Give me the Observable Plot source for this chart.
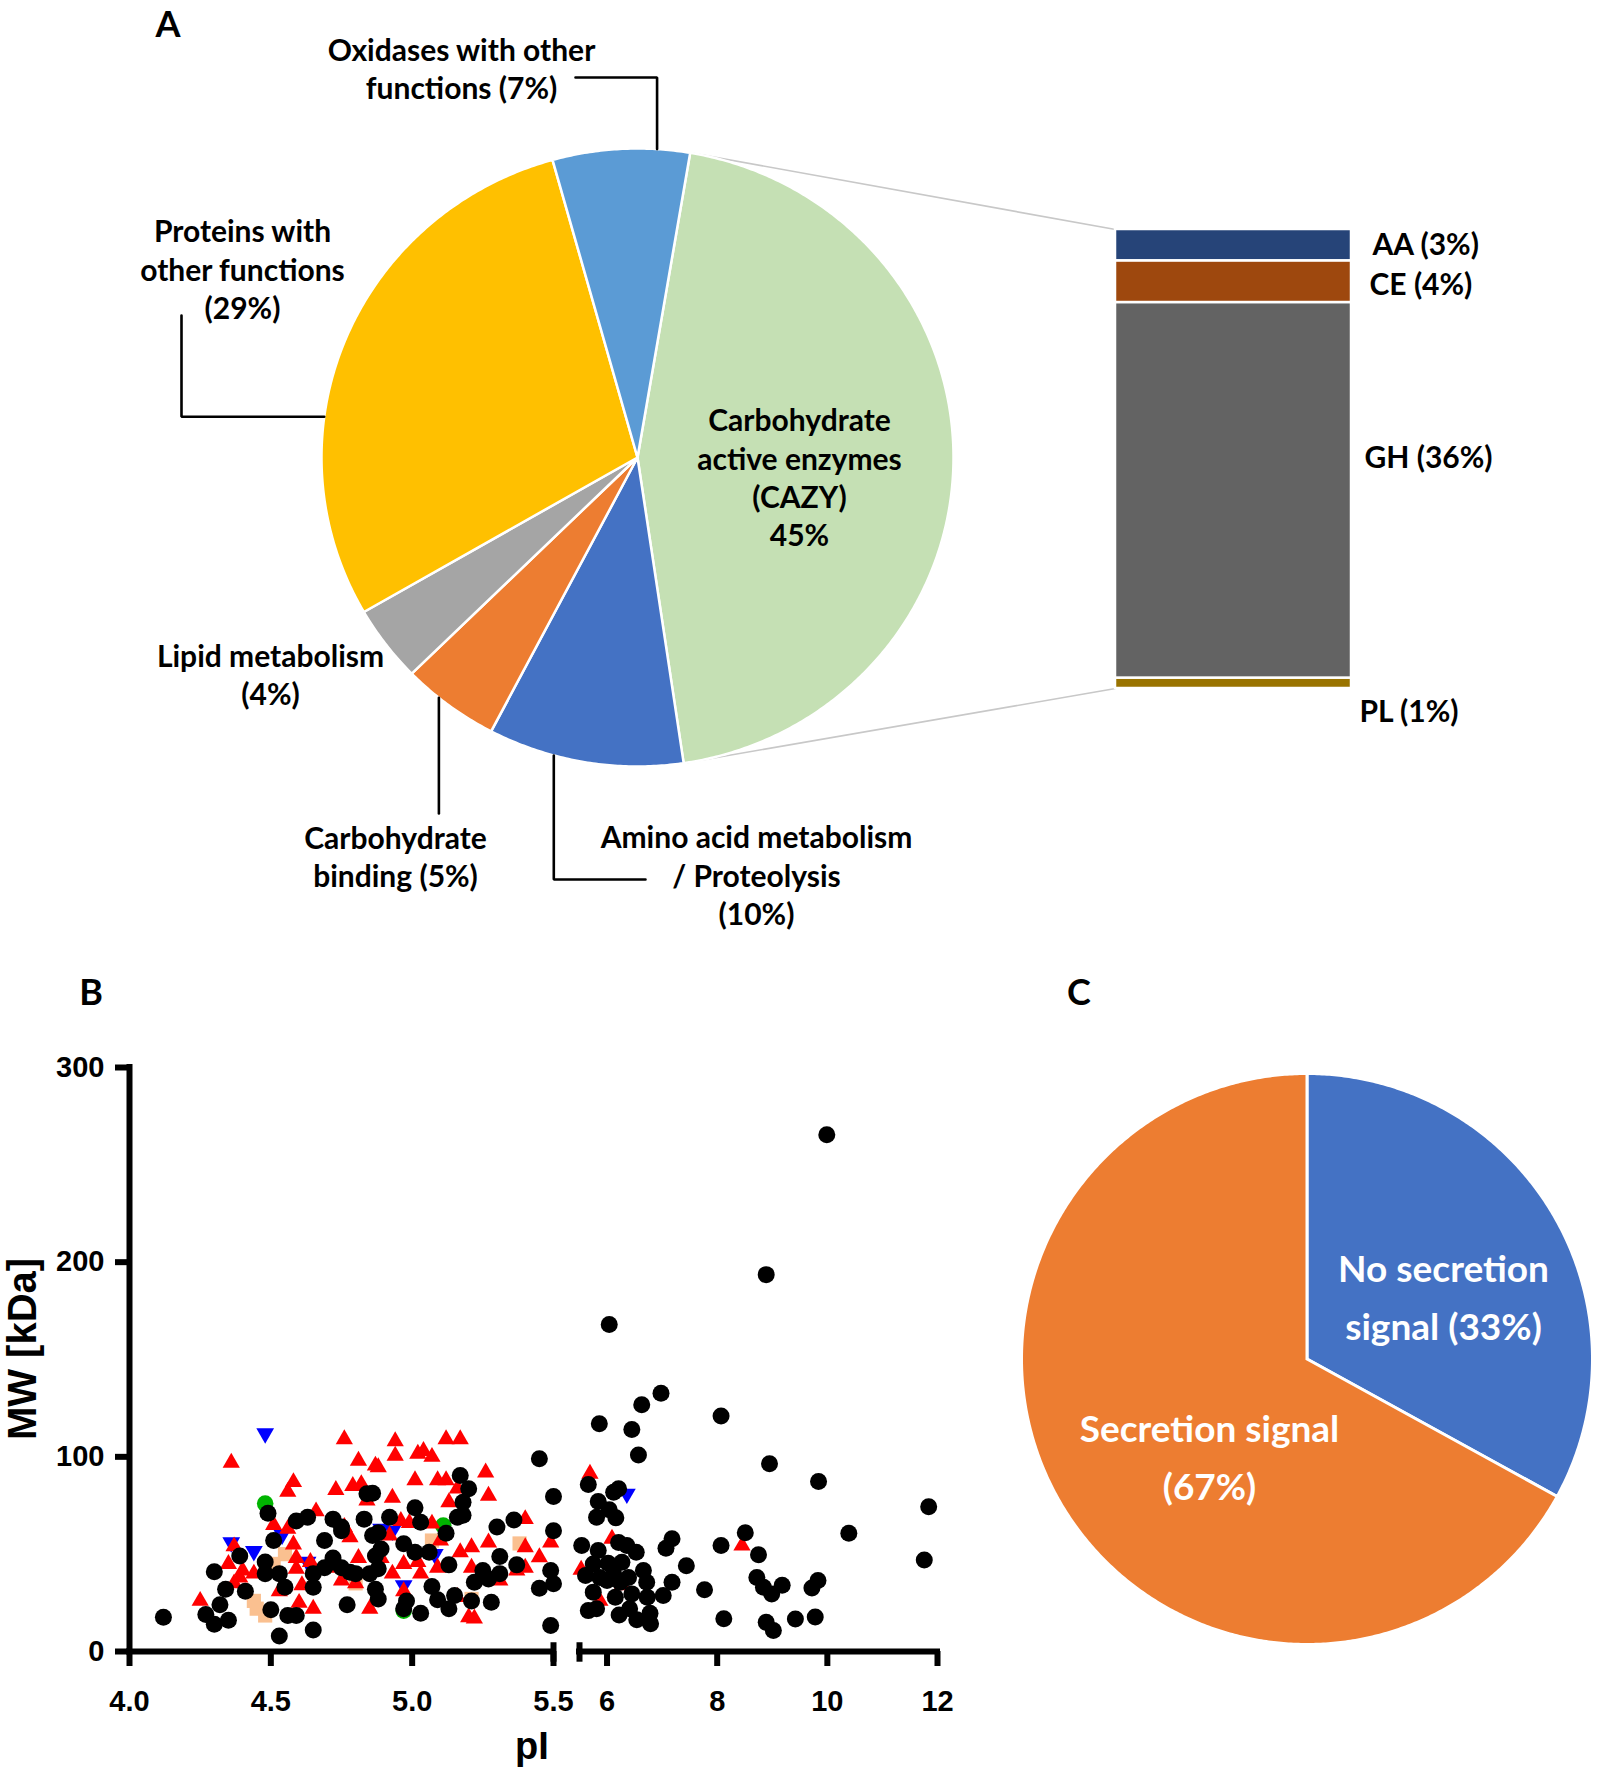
<!DOCTYPE html>
<html><head><meta charset="utf-8">
<script src="https://cdn.jsdelivr.net/npm/d3@7"></script>
<script src="https://cdn.jsdelivr.net/npm/@observablehq/plot@0.6"></script>
<style>
html,body{margin:0;padding:0;background:#fff;}
#fig{position:relative;width:1598px;height:1774px;overflow:hidden;font-family:Lato,"Open Sans",sans-serif;}
#fig .layer{position:absolute;}
#fig svg{overflow:visible;max-width:none;}
.lbl{position:absolute;font-weight:700;color:#000;white-space:nowrap;transform:translate(-50%,-50%);line-height:1;}
</style></head><body><div id="fig"></div>
<script>
// ---------------- DATA ----------------
const pieACategories = ["CAZY", "Amino acid metabolism / Proteolysis", "Carbohydrate binding", "Lipid metabolism", "Proteins with other functions", "Oxidases with other functions"];
const pieAValues = [45, 10, 5, 4, 29, 7];
const pieALabels = ["Carbohydrate\nactive enzymes\n(CAZY)\n45%", "Amino acid metabolism\n/ Proteolysis\n(10%)", "Carbohydrate\nbinding (5%)", "Lipid metabolism\n(4%)", "Proteins with\nother functions\n(29%)", "Oxidases with other\nfunctions (7%)"];

const cazyClasses = ["PL", "GH", "CE", "AA"];
const cazyValues = [1, 36, 4, 3];
const cazyLabels = ["PL (1%)", "GH (36%)", "CE (4%)", "AA (3%)"];

const pieCCategories = ["No secretion signal", "Secretion signal"];
const pieCValues = [33, 67];
const pieCLabels = ["No secretion\nsignal (33%)", "Secretion signal\n(67%)"];

const xTicksLow = [4.0, 4.5, 5.0, 5.5];
const xTicksHigh = [6, 8, 10, 12];
const yTicks = [0, 100, 200, 300];

// [pI, MW kDa]
const blackLow = [[4.12,17.6],[4.27,19],[4.30,14],[4.35,16],[4.32,24],[4.34,32],[4.30,41],[4.39,49],[4.41,31],[4.49,71],[4.51,57],[4.48,46],[4.48,40],[4.53,40],[4.55,33],[4.50,21.5],[4.56,18.5],[4.59,18.5],[4.53,8],[4.65,11],[4.59,67],[4.63,69],[4.69,57],[4.72,68],[4.75,64],[4.65,40],[4.65,33],[4.69,43],[4.72,48],[4.77,24],[4.72,46],[4.75,62],[4.84,81],[4.86,81.3],[4.83,68],[4.92,69],[5.01,73.8],[5.03,66.4],[5.17,90.4],[5.20,83.6],[5.18,76.7],[5.18,70],[5.16,69],[5.12,60.8],[4.88,61],[4.86,59.6],[4.89,52.7],[4.87,49],[4.97,55.3],[5.01,51],[5.06,51],[5.30,64],[5.36,67.6],[5.45,99],[5.50,79.6],[5.50,62],[5.13,44.5],[5.31,48.8],[5.37,44.5],[5.25,41.6],[5.31,40],[5.22,35.6],[5.27,37.3],[5.49,41.6],[5.50,34.8],[5.45,32.5],[4.78,40.7],[4.80,40],[4.85,40],[4.88,42.5],[4.87,32],[4.88,27],[4.98,26],[4.97,22],[5.03,19.7],[5.07,33.4],[5.09,26.6],[5.13,22],[5.15,28.8],[5.21,26],[5.28,25.3],[5.49,13.4],[4.75,43]];
const blackHigh = [[6.04,168],[6.98,132.7],[6.63,126.7],[5.86,117],[6.45,114],[6.57,101],[8.07,121],[8.95,96.4],[5.66,85.8],[6.12,81.8],[6.21,83.6],[5.84,77],[6.04,72.8],[5.81,69],[6.16,68.7],[5.54,54.4],[5.84,51.9],[6.21,56],[6.36,54.4],[6.53,51],[7.18,57.9],[7.07,53],[8.07,54.4],[8.51,61],[8.75,49.7],[5.75,45],[6.02,45.3],[6.27,45.9],[5.61,39],[5.87,38],[6.12,40],[6.39,38],[6.66,41.6],[6.72,35.6],[7.44,44],[7.18,35.6],[7.02,28.8],[7.77,31.7],[8.72,38],[8.84,33],[8.99,29.6],[5.75,30.5],[6.15,27.9],[6.45,29.6],[6.73,27.9],[5.66,21],[5.81,22],[6.22,18.8],[6.41,22],[6.54,16.3],[6.78,19.7],[6.79,14.2],[8.12,16.8],[8.89,15],[9.02,10.8],[6.0,36.5],[6.24,35.6],[9.99,265.5],[8.89,193.6],[9.84,87.3],[11.84,74.4],[10.39,60.8],[11.76,47],[9.18,34],[9.72,32.6],[9.83,36.5],[9.42,16.7],[9.78,17.7]];
const redLow = [[4.36,97],[4.58,87],[4.56,82],[4.73,83],[4.76,109],[4.25,26],[4.37,54],[4.35,45],[4.40,41.6],[4.44,40],[4.51,65],[4.56,63],[4.58,55],[4.59,48],[4.59,42.5],[4.61,34],[4.66,72],[4.64,46],[4.37,35],[4.53,31],[4.60,25],[4.65,22],[4.75,36.5],[4.39,38],[4.94,108],[4.94,100.6],[5.02,101.6],[5.04,103],[5.07,100],[5.12,109],[5.17,109],[4.81,98],[4.87,95.5],[4.88,94.7],[4.79,85],[4.82,86],[4.93,79],[5.01,88],[5.09,88],[5.12,88],[5.26,92],[5.27,80],[5.13,76.7],[5.16,83.7],[4.84,77.5],[4.96,67],[4.99,66],[5.07,65.7],[5.40,68],[4.92,59.6],[4.76,64],[4.78,58.7],[5.10,57],[5.17,51],[5.21,53.6],[5.27,56],[5.40,53.6],[5.45,48.4],[5.49,56],[5.40,43],[4.81,48],[4.89,48],[4.97,45],[5.02,46],[5.03,40],[5.09,43],[5.21,43],[5.31,36.5],[5.37,41.6],[4.93,40],[4.80,35],[4.85,22],[4.97,31],[5.20,17.6],[5.22,17],[5.16,28],[4.74,43]];
const redHigh = [[5.69,91.3],[8.45,54.4],[6.09,57.9],[5.53,42],[6.27,34],[5.87,26]];
const blueLow = [[4.48,112],[4.36,56],[4.44,51.5],[4.54,60],[4.63,46],[4.89,63],[4.93,62],[4.97,34],[5.08,50]];
const blueHigh = [[6.36,81]];
const greenLow = [[4.48,76],[5.11,64.7],[4.97,21]];
const orangeLow = [[4.44,26],[4.45,22],[4.48,18.5],[4.55,50],[4.51,45],[5.07,57],[5.21,27],[5.38,55.5],[4.80,35]];

// ---------------- STYLE / LAYOUT ----------------
const pieAColors = ["#C5E0B4", "#4472C4", "#ED7D31", "#A5A5A5", "#FFC000", "#5B9BD5"];
const cazyColors = {PL: "#997300", GH: "#636363", CE: "#9E480E", AA: "#264478"};
const pieCColors = ["#4472C4", "#ED7D31"];
const labelFont = "Lato, 'Open Sans', sans-serif";
const axisFont = "'Liberation Sans', Arial, sans-serif";

const A = {w: 1598, h: 960, cx: 637, cy: 457, rx: 316, ry: 309, start: 9.6};
const barBox = {left: 1115, right: 1351, top: 229, bottom: 688};
const labelPosA = [[799, 476], [756, 874], [395, 855], [270, 673], [242, 268], [461, 67]];
const barLabelDx = [8, 13, 18, 21];
const barLabelDy = [29, -32, 4, 0];
const leadersA = [
  {k: 5, frac: 0.76, path: a => [[575, 77], [a[0], 77], a]},
  {k: 4, frac: 0.36, path: a => [[181, 315], [181, a[1]], a]},
  {k: 2, frac: 0.63, path: a => [[a[0], 813], a]},
  {k: 1, frac: 0.66, path: a => [a, [a[0], 879], [645, 879]]}
];
const C = {left: 1000, top: 1000, w: 598, h: 774, cx: 306.5, cy: 358.5, r: 285.5, start: 0};
const labelPosC = [[443, 292], [209, 452]];
const B = {left: 0, top: 1000, w: 1000, h: 774, mTop: 67, mBottom: 123, left1: 129, right1: 553, left2: 579, right2: 937};

// ---------------- HELPERS ----------------
function sliceAngles(values, start) {
  const total = d3.sum(values);
  let a = start;
  return values.map((v, i) => { const a0 = a; a += v / total * 360; return {k: i, a0, a1: a}; });
}
function slicePolygons(slices) {
  const rows = [];
  for (const s of slices) {
    const n = Math.max(2, Math.ceil((s.a1 - s.a0) / 0.5));
    rows.push({k: s.k, x: 0, y: 0});
    for (let j = 0; j <= n; j++) {
      const t = (s.a0 + (s.a1 - s.a0) * j / n) * Math.PI / 180;
      rows.push({k: s.k, x: Math.sin(t), y: Math.cos(t)});
    }
    rows.push({k: s.k, x: 0, y: 0});
  }
  return rows;
}
const triangleDown = {
  draw(context, size) {
    const y = -Math.sqrt(size / (Math.sqrt(3) * 3));
    context.moveTo(0, -2 * y);
    context.lineTo(-Math.sqrt(3) * y, y);
    context.lineTo(Math.sqrt(3) * y, y);
    context.closePath();
  }
};
const fig = document.getElementById("fig");
function place(node, left, top) {
  node.classList.add("layer");
  node.style.left = left + "px";
  node.style.top = top + "px";
  fig.appendChild(node);
}
function html(text, x, y, size, family, extra) {
  const d = document.createElement("div");
  d.className = "lbl";
  d.textContent = text;
  d.style.left = x + "px";
  d.style.top = y + "px";
  d.style.fontSize = size + "px";
  d.style.fontFamily = family;
  if (extra) Object.assign(d.style, extra);
  fig.appendChild(d);
}

// ---------------- PANEL A : pie ----------------
const toX = px => (px - A.cx) / A.rx, toY = py => (A.cy - py) / A.ry;
const slicesA = sliceAngles(pieAValues, A.start);
const polyA = slicePolygons(slicesA);
const edgePx = deg => [A.cx + A.rx * Math.sin(deg * Math.PI / 180), A.cy - A.ry * Math.cos(deg * Math.PI / 180)];
const leaderRows = [];
leadersA.forEach((L, i) => {
  const s = slicesA[L.k];
  const a = edgePx(s.a0 + (s.a1 - s.a0) * L.frac);
  L.path(a).forEach(p => leaderRows.push({k: i, x: toX(p[0]), y: toY(p[1])}));
});
const cazy = slicesA[0];
const connectors = [
  {p: edgePx(cazy.a0), q: [barBox.left, barBox.top]},
  {p: edgePx(cazy.a1), q: [barBox.left, barBox.bottom]}
].map(c => ({x1: toX(c.p[0]), y1: toY(c.p[1]), x2: toX(c.q[0]), y2: toY(c.q[1])}));
const labelRowsA = pieALabels.map((t, i) => ({text: t, x: toX(labelPosA[i][0]), y: toY(labelPosA[i][1])}));

const plotA = Plot.plot({
  width: A.w, height: A.h, margin: 0,
  x: {domain: [toX(0), toX(A.w)], axis: null},
  y: {domain: [toY(A.h), toY(0)], axis: null},
  color: {type: "identity"},
  style: {background: "transparent", overflow: "visible"},
  marks: [
    Plot.link(connectors, {x1: "x1", y1: "y1", x2: "x2", y2: "y2", stroke: "#C8C8C8", strokeWidth: 1.6}),
    Plot.line(polyA, {x: "x", y: "y", z: "k", fill: d => pieAColors[d.k], stroke: "white", strokeWidth: 2.5, strokeLinejoin: "round"}),
    Plot.line(leaderRows, {x: "x", y: "y", z: "k", stroke: "black", strokeWidth: 2.6, strokeLinejoin: "miter"}),
    Plot.text(labelRowsA, {x: "x", y: "y", text: "text", fontSize: 30, fontWeight: "bold", fontFamily: labelFont, lineHeight: 1.28, fill: "black"})
  ]
});
place(plotA, 0, 0);

// ---------------- PANEL A : stacked CAZy bar ----------------
const barRows = cazyClasses.map((c, i) => ({cls: c, value: cazyValues[i], label: cazyLabels[i], i}));
const cum = d3.cumsum(cazyValues);
const plotBar = Plot.plot({
  width: A.w, height: A.h, margin: 0,
  x: {type: "band", domain: ["CAZY"], range: [barBox.left, barBox.right], padding: 0, axis: null},
  y: {domain: [0, d3.sum(cazyValues)], range: [barBox.bottom, barBox.top], axis: null},
  color: {type: "identity"},
  style: {background: "transparent", overflow: "visible"},
  marks: [
    Plot.barY(barRows, {x: () => "CAZY", y: "value", fill: d => cazyColors[d.cls], stroke: "white", strokeWidth: 2.5, inset: 0}),
    ...barRows.map((d, i) => Plot.text([d], {
      x: () => "CAZY", y: () => cum[i] - d.value / 2, text: "label",
      dx: (barBox.right - barBox.left) / 2 + barLabelDx[i], dy: barLabelDy[i],
      textAnchor: "start", fontSize: 30, fontWeight: "bold", fontFamily: labelFont, fill: "black"
    }))
  ]
});
place(plotBar, 0, 0);

// ---------------- PANEL B : scatter with broken x axis ----------------
const dotMarks = (o, bl, r, g, bk) => [
  Plot.dot(o, {x: d => d[0], y: d => d[1], symbol: "square", r: 8, fill: "#FAC090"}),
  Plot.dot(g, {x: d => d[0], y: d => d[1], symbol: "circle", r: 8.3, fill: "#00B400"}),
  Plot.dot(bl, {x: d => d[0], y: d => d[1], symbol: triangleDown, r: 6.6, fill: "#0000FF"}),
  Plot.dot(r, {x: d => d[0], y: d => d[1], symbol: "triangle", r: 6.4, fill: "#FF0000"}),
  Plot.dot(bk, {x: d => d[0], y: d => d[1], symbol: "circle", r: 8.5, fill: "black"})
];
const axisStyle = {fontSize: 29, fontWeight: "bold", fontFamily: axisFont, strokeWidth: 6, fill: "black", label: null};

const plotB1 = Plot.plot({
  width: B.w, height: B.h,
  marginLeft: B.left1, marginRight: B.w - B.right1, marginTop: B.mTop, marginBottom: B.mBottom,
  x: {domain: [4, 5.5]},
  y: {domain: [0, 300]},
  style: {background: "transparent", overflow: "visible"},
  marks: [
    ...dotMarks(orangeLow, blueLow, redLow, greenLow, blackLow),
    Plot.ruleX([4], {y1: 0, y2: 300, strokeWidth: 6, stroke: "black", strokeLinecap: "square"}),
    Plot.ruleY([0], {x1: 4, x2: 5.5, strokeWidth: 6, stroke: "black", strokeLinecap: "square"}),
    Plot.ruleX([5.5], {y1: -5.5, y2: 4.5, strokeWidth: 6, stroke: "black"}),
    Plot.axisY({ticks: yTicks, tickSize: 14, tickPadding: 11, tickFormat: d => d, ...axisStyle}),
    Plot.axisX({ticks: xTicksLow, tickSize: 15, tickPadding: 24, tickFormat: d3.format(".1f"), ...axisStyle})
  ]
});
place(plotB1, B.left, B.top);

const plotB2 = Plot.plot({
  width: B.w, height: B.h,
  marginLeft: B.left2, marginRight: B.w - B.right2, marginTop: B.mTop, marginBottom: B.mBottom,
  x: {domain: [5.5, 12]},
  y: {domain: [0, 300], axis: null},
  style: {background: "transparent", overflow: "visible"},
  marks: [
    ...dotMarks([], blueHigh, redHigh, [], blackHigh),
    Plot.ruleY([0], {x1: 5.5, x2: 12, strokeWidth: 6, stroke: "black", strokeLinecap: "square"}),
    Plot.ruleX([5.5], {y1: -5.5, y2: 4.5, strokeWidth: 6, stroke: "black"}),
    Plot.axisX({ticks: xTicksHigh, tickSize: 15, tickPadding: 24, tickFormat: d => d, ...axisStyle})
  ]
});
place(plotB2, B.left, B.top);

// ---------------- PANEL C : pie ----------------
const toXC = px => (px - C.cx) / C.r, toYC = py => (C.cy - py) / C.r;
const slicesC = sliceAngles(pieCValues, C.start);
const polyC = slicePolygons(slicesC);
const labelRowsC = pieCLabels.map((t, i) => ({text: t, x: toXC(labelPosC[i][0]), y: toYC(labelPosC[i][1])}));
const plotC = Plot.plot({
  width: C.w, height: C.h, margin: 0,
  x: {domain: [toXC(0), toXC(C.w)], axis: null},
  y: {domain: [toYC(C.h), toYC(0)], axis: null},
  color: {type: "identity"},
  style: {background: "transparent", overflow: "visible"},
  marks: [
    Plot.line(polyC, {x: "x", y: "y", z: "k", fill: d => pieCColors[d.k], stroke: "white", strokeWidth: 3, strokeLinejoin: "round"}),
    Plot.text(labelRowsC, {x: "x", y: "y", text: "text", fontSize: 37, fontWeight: "bold", fontFamily: labelFont, lineHeight: 1.57, fill: "white"})
  ]
});
place(plotC, C.left, C.top);

// ---------------- Text outside the plots ----------------
html("A", 168, 23, 36, labelFont);
html("B", 91, 991, 36, labelFont);
html("C", 1079, 991, 36, labelFont);
html("MW [kDa]", 22, 1349, 40, axisFont, {transform: "translate(-50%,-50%) rotate(-90deg)"});
html("pI", 532, 1746, 38, axisFont);
</script></body></html>
